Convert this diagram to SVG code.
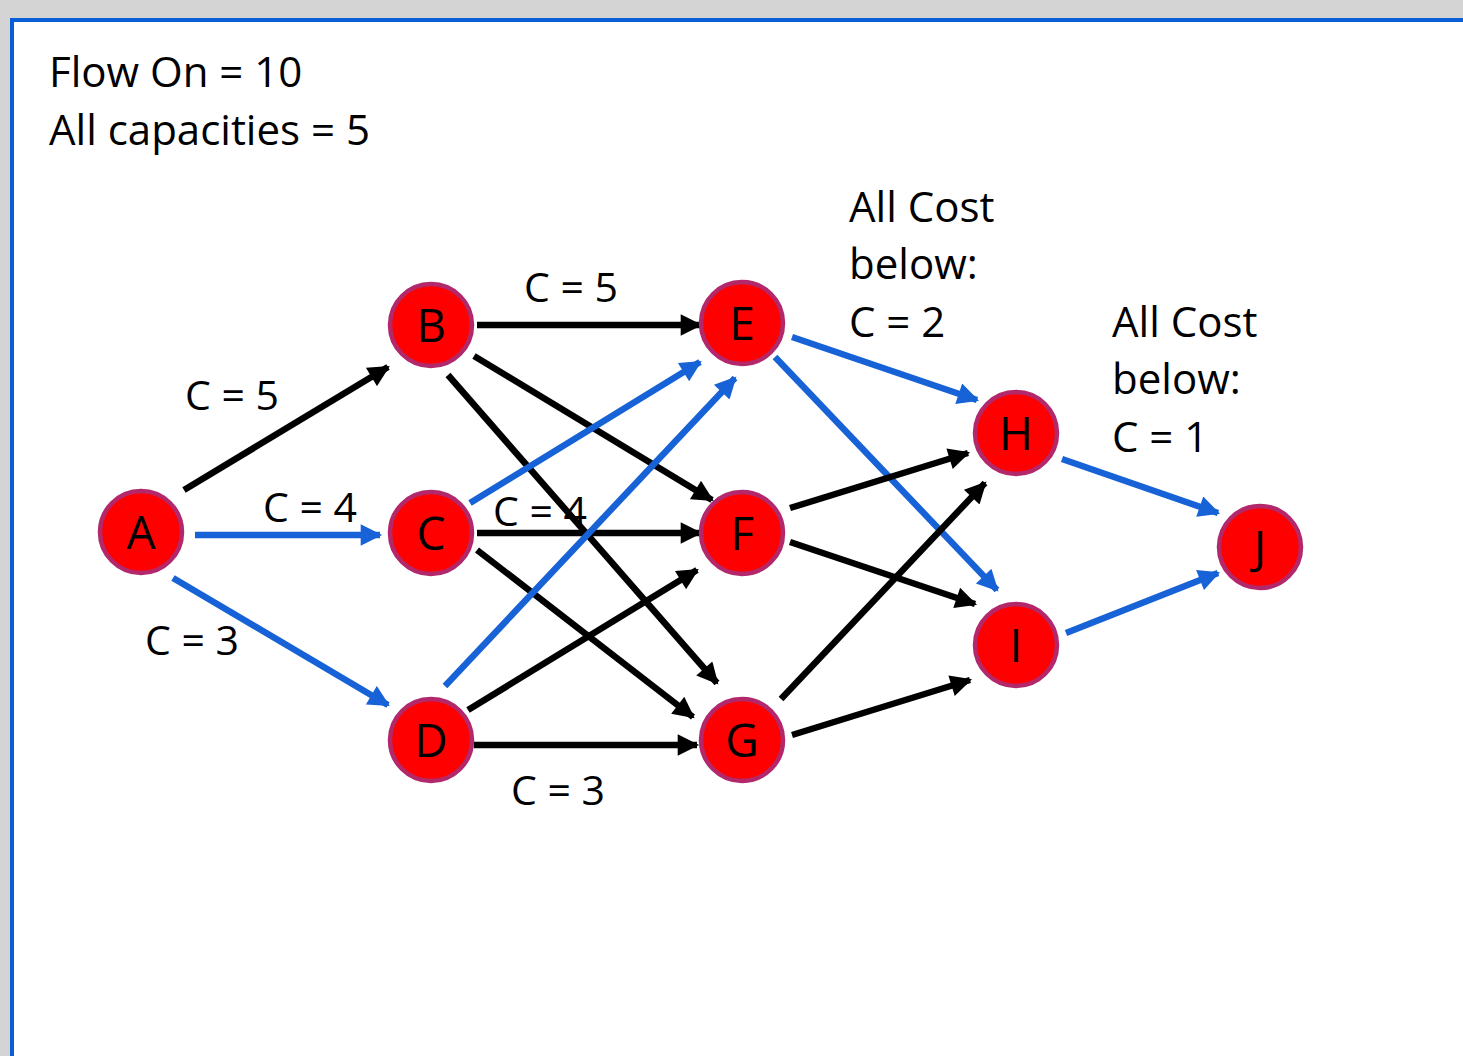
<svg xmlns="http://www.w3.org/2000/svg" width="1463" height="1056" viewBox="0 0 1463 1056">
  <defs>
    <style>
      .txt { font-family: "Open Sans", "Liberation Sans", sans-serif; font-size: 42px; fill: #000; }
      .lbl { font-family: "Open Sans", "Liberation Sans", sans-serif; font-size: 41px; fill: #000; text-anchor: middle; }
      .node circle { fill: #ff0000; stroke: #b3286b; stroke-width: 4.5; }
      .node text { font-family: "Open Sans", "Liberation Sans", sans-serif; font-size: 46px; fill: #000; text-anchor: middle; }
      .blk { stroke: #000; stroke-width: 6.5; fill: none; marker-end: url(#ah-black); }
      .blu { stroke: #1762d6; stroke-width: 6.5; fill: none; marker-end: url(#ah-blue); }
    </style>
    <marker id="ah-black" viewBox="0 0 10 10" refX="9" refY="5" markerWidth="3.6" markerHeight="3.3" orient="auto" markerUnits="strokeWidth">
      <path d="M0,0 L10,5 L0,10 z" fill="#000"/>
    </marker>
    <marker id="ah-blue" viewBox="0 0 10 10" refX="9" refY="5" markerWidth="3.6" markerHeight="3.3" orient="auto" markerUnits="strokeWidth">
      <path d="M0,0 L10,5 L0,10 z" fill="#1762d6"/>
    </marker>
  </defs>

  <!-- page background and slide frame -->
  <rect x="0" y="0" width="1463" height="1056" fill="#d4d4d4"/>
  <rect x="12" y="20" width="1460" height="1050" fill="#ffffff" stroke="#0a5fd6" stroke-width="4"/>

  <!-- header notes -->
  <text class="txt" x="49" y="87">Flow On = 10</text>
  <text class="txt" x="49" y="145">All capacities = 5</text>
  <text class="txt" x="849" y="222">All Cost</text>
  <text class="txt" x="849" y="279">below:</text>
  <text class="txt" x="849" y="337">C = 2</text>
  <text class="txt" x="1112" y="337">All Cost</text>
  <text class="txt" x="1112" y="394">below:</text>
  <text class="txt" x="1112" y="452">C = 1</text>

  <!-- connectors -->
  <g id="connectors">
    <line class="blk" x1="184" y1="490" x2="388" y2="367"/>
    <line class="blu" x1="195" y1="535" x2="380" y2="535"/>
    <line class="blu" x1="173" y1="578" x2="388" y2="705"/>

    <line class="blk" x1="477" y1="325" x2="700" y2="325"/>
    <line class="blk" x1="474" y1="356" x2="712" y2="500"/>
    <line class="blk" x1="448" y1="375" x2="717" y2="683"/>

    <line class="blu" x1="470" y1="503" x2="700" y2="362"/>
    <line class="blk" x1="477" y1="533" x2="700" y2="533"/>
    <line class="blk" x1="477" y1="550" x2="693" y2="717"/>

    <line class="blu" x1="445" y1="686" x2="735" y2="378"/>
    <line class="blk" x1="468" y1="710" x2="697" y2="570"/>
    <line class="blk" x1="474" y1="745" x2="697" y2="745"/>

    <line class="blu" x1="792" y1="337" x2="977" y2="400"/>
    <line class="blu" x1="775" y1="357" x2="997" y2="590"/>
    <line class="blk" x1="790" y1="508" x2="968" y2="453"/>
    <line class="blk" x1="790" y1="542" x2="975" y2="604"/>
    <line class="blk" x1="781" y1="699" x2="985" y2="483"/>
    <line class="blk" x1="792" y1="735" x2="970" y2="680"/>

    <line class="blu" x1="1062" y1="459" x2="1218" y2="513"/>
    <line class="blu" x1="1066" y1="633" x2="1218" y2="573"/>
  </g>

  <!-- edge cost labels -->
  <text class="lbl" x="571" y="302">C = 5</text>
  <text class="lbl" x="232" y="410">C = 5</text>
  <text class="lbl" x="310" y="522">C = 4</text>
  <text class="lbl" x="540" y="526">C = 4</text>
  <text class="lbl" x="192" y="655">C = 3</text>
  <text class="lbl" x="558" y="805">C = 3</text>

  <!-- nodes -->
  <g id="A" class="node"><circle cx="141" cy="532" r="41"/><text x="141" y="549">A</text></g>
  <g id="B" class="node"><circle cx="431" cy="325" r="41"/><text x="431" y="342">B</text></g>
  <g id="C" class="node"><circle cx="431" cy="533" r="41"/><text x="431" y="550">C</text></g>
  <g id="D" class="node"><circle cx="431" cy="740" r="41"/><text x="431" y="757">D</text></g>
  <g id="E" class="node"><circle cx="742" cy="323" r="41"/><text x="742" y="340">E</text></g>
  <g id="F" class="node"><circle cx="742" cy="533" r="41"/><text x="742" y="550">F</text></g>
  <g id="G" class="node"><circle cx="742" cy="740" r="41"/><text x="742" y="757">G</text></g>
  <g id="H" class="node"><circle cx="1016" cy="433" r="41"/><text x="1016" y="450">H</text></g>
  <g id="I" class="node"><circle cx="1016" cy="645" r="41"/><text x="1016" y="662">I</text></g>
  <g id="J" class="node"><circle cx="1260" cy="547" r="41"/><text x="1260" y="564">J</text></g>
</svg>
